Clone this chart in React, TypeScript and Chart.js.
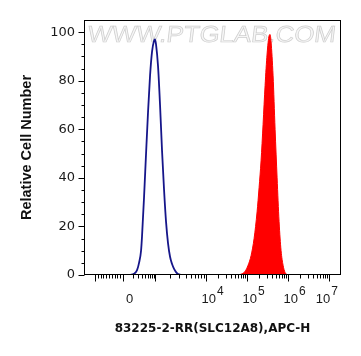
import React, { useEffect, useRef } from 'react';
import { Chart, registerables } from 'chart.js';

Chart.register(...registerables);

// x values are in display units of the biexponential axis (1 unit = one decade above 10^3)
const isotypeX = [2.146, 2.244, 2.317, 2.366, 2.415, 2.439, 2.488, 2.537, 2.585, 2.634, 2.683, 2.732, 2.756, 2.780, 2.829, 2.878, 2.927, 2.976, 3.024, 3.073, 3.122, 3.171, 3.220, 3.268, 3.317, 3.390];
const isotypeY = [0, 0.5, 2, 5, 10, 16, 32, 50, 67, 82, 92, 96.5, 97, 95, 86, 70, 51, 35, 22, 13, 7.5, 4.5, 2.5, 1.2, 0.4, 0];

const antibodyX = [4.780, 4.878, 4.951, 5.024, 5.098, 5.171, 5.244, 5.293, 5.341, 5.390, 5.439, 5.488, 5.537, 5.561, 5.585, 5.634, 5.683, 5.732, 5.780, 5.829, 5.878, 5.927, 6.000];
const antibodyY = [0, 0.5, 1.5, 4, 8, 15, 26, 36, 47, 62, 78, 91, 98.5, 99, 96, 82, 60, 40, 22, 10, 4, 1, 0];

const xMajorTicks = [1.293, 1.976, 2.756, 4, 5, 6, 7];
const xMajorBase = ['', '0', '', '10', '10', '10', '10'];
const xMajorExp = ['', '', '', '4', '5', '6', '7'];
const xMinorKind = ['linear', 'log', 'log', 'log', 'log', 'log'];

const yMajorTicks = [0, 20, 40, 60, 80, 100];
const yMinorStep = 5;

const X_MIN = 1.024;
const X_MAX = 7.29;
const Y_MIN = 0;
const Y_MAX = 105;

const xTitle = '83225-2-RR(SLC12A8),APC-H';
const yTitle = 'Relative Cell Number';
const watermark = 'WWW.PTGLAB.COM';

const decorPlugin = {
  id: 'decor',
  beforeDatasetsDraw(chart: any) {
    const { ctx, chartArea } = chart;
    ctx.save();
    ctx.font = "23px 'Liberation Sans'";
    const w = ctx.measureText(watermark).width;
    const target = 248;
    ctx.translate(chartArea.left + 3, 41.5);
    ctx.transform(target / w, 0, -0.12, 1, 0, 0);
    ctx.textBaseline = 'alphabetic';
    ctx.fillStyle = '#f6f6f6';
    ctx.strokeStyle = '#cfcfcf';
    ctx.lineWidth = 0.7;
    ctx.fillText(watermark, 0, 0);
    ctx.strokeText(watermark, 0, 0);
    ctx.restore();
  },
  afterDraw(chart: any) {
    const { ctx, chartArea } = chart;
    const xs = chart.scales.x;
    const ys = chart.scales.y;
    const L = Math.round(chartArea.left) + 0.5;
    const R = Math.round(chartArea.right) - 0.5;
    const T = Math.round(chartArea.top) + 0.5;
    const B = Math.round(chartArea.bottom) - 0.5;
    ctx.save();
    ctx.strokeStyle = '#000';
    ctx.lineWidth = 1;
    ctx.strokeRect(L, T, R - L, B - T);

    // y ticks
    ctx.beginPath();
    for (let v = Y_MIN; v <= 100; v += yMinorStep) {
      const y = Math.round(ys.getPixelForValue(v)) + 0.5;
      const major = yMajorTicks.includes(v);
      ctx.moveTo(L, y);
      ctx.lineTo(L - (major ? 6 : 3), y);
    }
    // x ticks
    const xp = (u: number) => Math.round(xs.getPixelForValue(u)) + 0.5;
    xMajorTicks.forEach((u) => {
      const x = xp(u);
      ctx.moveTo(x, B);
      ctx.lineTo(x, B + 7);
    });
    for (let i = 0; i < xMajorTicks.length - 1; i++) {
      const a = xMajorTicks[i];
      const b = xMajorTicks[i + 1];
      for (let k = 2; k <= 9; k++) {
        const u = xMinorKind[i] === 'linear' ? a + (k / 10) * (b - a) : a + Math.log10(k) * (b - a);
        const x = xp(u);
        ctx.moveTo(x, B);
        ctx.lineTo(x, B + 4);
      }
      if (xMinorKind[i] === 'linear') {
        const x = xp(a + 0.1 * (b - a));
        ctx.moveTo(x, B);
        ctx.lineTo(x, B + 4);
      }
    }
    ctx.stroke();

    // x tick labels
    ctx.fillStyle = '#1a1a1a';
    ctx.textBaseline = 'alphabetic';
    ctx.textAlign = 'left';
    xMajorTicks.forEach((u, i) => {
      if (!xMajorBase[i]) return;
      ctx.font = "13px 'Liberation Sans'";
      const bw = ctx.measureText(xMajorBase[i]).width;
      ctx.font = "12px 'Liberation Sans'";
      const ew = xMajorExp[i] ? ctx.measureText(xMajorExp[i]).width + 1 : 0;
      const total = bw + ew;
      let start = xs.getPixelForValue(u) + 6.5 - total / 2;
      if (start + total > chartArea.right - 3) start = chartArea.right - 3 - total;
      ctx.font = "13px 'Liberation Sans'";
      ctx.fillText(xMajorBase[i], start, 302.5);
      if (xMajorExp[i]) {
        ctx.font = "12px 'Liberation Sans'";
        ctx.fillText(xMajorExp[i], start + bw + 1, 295);
      }
    });
    ctx.restore();
  },
};

export default function App() {
  const ref = useRef<HTMLCanvasElement | null>(null);
  useEffect(() => {
    const canvas = ref.current;
    if (!canvas) return;
    const chart = new Chart(canvas, {
      type: 'line',
      data: {
        datasets: [
          {
            data: antibodyX.map((x, i) => ({ x, y: antibodyY[i] })),
            borderColor: '#ff0000',
            backgroundColor: '#ff0000',
            borderWidth: 1,
            fill: 'origin',
            pointRadius: 0,
            cubicInterpolationMode: 'monotone',
          },
          {
            data: isotypeX.map((x, i) => ({ x, y: isotypeY[i] })),
            borderColor: '#16168a',
            borderWidth: 1.8,
            fill: false,
            pointRadius: 0,
            cubicInterpolationMode: 'monotone',
          },
        ],
      },
      options: {
        animation: false,
        responsive: false,
        devicePixelRatio: 1,
        layout: { padding: { top: 20, right: 20, left: 0, bottom: 0 } },
        plugins: { legend: { display: false }, tooltip: { enabled: false } },
        scales: {
          x: {
            type: 'linear',
            min: X_MIN,
            max: X_MAX,
            grid: { display: false },
            border: { display: false },
            ticks: { display: false },
            title: {
              display: true,
              text: xTitle,
              color: '#111',
              font: { family: "'DejaVu Sans'", size: 12, weight: 'bold' },
              padding: { top: 0, bottom: 20 },
            },
            afterFit: (s: any) => { s.height = 81; },
          },
          y: {
            type: 'linear',
            min: Y_MIN,
            max: Y_MAX,
            grid: { display: false, drawTicks: false },
            border: { display: false },
            afterBuildTicks: (s: any) => { s.ticks = yMajorTicks.map((v) => ({ value: v })); },
            ticks: {
              color: '#1a1a1a',
              padding: 9,
              font: { family: "'DejaVu Sans'", size: 13 },
            },
            title: {
              display: true,
              text: yTitle,
              color: '#111',
              font: { family: "'Liberation Sans'", size: 14.5, weight: 'bold' },
              padding: { top: 18, bottom: 0 },
            },
            afterFit: (s: any) => { s.width = 84; },
          },
        },
      },
      plugins: [decorPlugin],
    } as any);
    return () => chart.destroy();
  }, []);
  return (
    <div style={{ position: 'fixed', left: 0, top: 0, width: 361, height: 356, background: '#fff' }}>
      <canvas ref={ref} width={361} height={356} style={{ display: 'block' }} />
    </div>
  );
}
